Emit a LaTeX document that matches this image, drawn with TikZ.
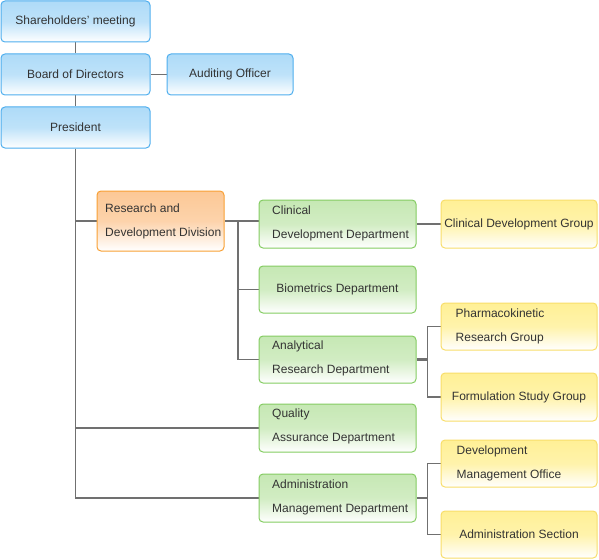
\documentclass[tikz,border=0pt]{standalone}
\usepackage{fontspec}
\setmainfont{Liberation Sans}
\usetikzlibrary{backgrounds}
\definecolor{txt}{HTML}{333333}
\definecolor{ln}{HTML}{707070}
\definecolor{bluef}{HTML}{AEDBF8}
\definecolor{blued}{HTML}{4EAEEE}
\definecolor{greenf}{HTML}{C6E8B4}
\definecolor{greend}{HTML}{84CC62}
\definecolor{orangef}{HTML}{FCC896}
\definecolor{oranged}{HTML}{F8A034}
\definecolor{yellowf}{HTML}{FFF096}
\definecolor{yellowd}{HTML}{F8DE6A}
\begin{document}
\begin{tikzpicture}[x=1pt,y=-1pt,
  box/.style={rectangle, rounded corners=4pt, line width=1pt, inner sep=0pt,
    text=txt, font=\fontsize{12}{24}\selectfont},
  bluebox/.style={box, draw=blued, top color=bluef, bottom color=white, middle color=bluef!80},
  greenbox/.style={box, draw=greend, top color=greenf, bottom color=white, middle color=greenf!80},
  orangebox/.style={box, draw=oranged, top color=orangef, bottom color=white, middle color=orangef!80},
  yellowbox/.style={box, draw=yellowd, top color=yellowf, bottom color=white, middle color=yellowf!80},
  lbl/.style={anchor=west, align=left, inner sep=0pt, text=txt, font=\fontsize{12}{24}\selectfont},
  conn/.style={draw=ln, line width=1.2pt},
  stub/.style={draw=ln, line width=2.6pt}]
\useasboundingbox (0,0) rectangle (599,559);
% top column
\node[bluebox, minimum width=149, minimum height=41] (sh) at (75.5,21.5) {Shareholders' meeting};
\node[bluebox, minimum width=149, minimum height=41] (bd) at (75.5,74.5) {Board of Directors};
\node[bluebox, minimum width=126, minimum height=41] (ao) at (230,74.5) {Auditing Officer};
\node[bluebox, minimum width=149, minimum height=41] (pr) at (75.5,127.5) {President};
% division
\node[orangebox, minimum width=127, minimum height=60] (rd) at (160.5,221) {};
\node[lbl] (rdt) at (105,221) {Research and\\Development Division};
% departments
\node[greenbox, minimum width=157, minimum height=48] (cl) at (337.5,224) {};
\node[lbl] (clt) at (272,223) {Clinical\\Development Department};
\node[greenbox, minimum width=157, minimum height=47] (bio) at (337.5,289.5) {Biometrics Department};
\node[greenbox, minimum width=157, minimum height=47] (an) at (337.5,359.5) {};
\node[lbl] (ant) at (272,358.5) {Analytical\\Research Department};
\node[greenbox, minimum width=157, minimum height=48] (qa) at (337.5,428) {};
\node[lbl] (qat) at (272,426) {Quality\\Assurance Department};
\node[greenbox, minimum width=157, minimum height=48] (ad) at (337.5,498) {};
\node[lbl] (adt) at (272,497) {Administration\\Management Department};
% groups
\node[yellowbox, minimum width=156, minimum height=48] (cdg) at (519,224) {Clinical Development Group};
\node[yellowbox, minimum width=156, minimum height=47] (pk) at (519,326.5) {};
\node[lbl] (pkt) at (455.5,326) {Pharmacokinetic\\Research Group};
\node[yellowbox, minimum width=156, minimum height=48] (fs) at (519,397) {Formulation Study Group};
\node[yellowbox, minimum width=156, minimum height=47] (dm) at (519,463.5) {};
\node[lbl] (dmt) at (456.5,463) {Development\\Management Office};
\node[yellowbox, minimum width=156, minimum height=47] (as) at (519,534.5) {Administration Section};
% connectors
\begin{scope}[on background layer]
\draw[conn] (sh.south) -- (bd.north);
\draw[conn] (bd.east) -- (ao.west);
\draw[conn] (bd.south) -- (pr.north);
\draw[conn] (pr.south) |- (rd.west);
\draw[conn] (pr.south) |- (qa.west);
\draw[conn] (pr.south) |- (ad.west);
\coordinate (j1) at (238,221);
\draw[conn] (rd.east) -- (rd.east -| cl.west);
\draw[conn] (j1) |- (bio.west);
\draw[conn] (j1) |- (an.west);
\draw[conn] (cl.east) -- (cdg.west);
\coordinate (j2) at (427.5,359.5);
\draw[stub] (an.east) -- (j2);
\draw[conn] (j2) |- (pk.west);
\draw[conn] (j2) |- (fs.west);
\coordinate (j3) at (427.5,498);
\draw[stub] (ad.east) -- (j3);
\draw[conn] (j3) |- (dm.west);
\draw[conn] (j3) |- (as.west);
\end{scope}
\end{tikzpicture}
\end{document}
